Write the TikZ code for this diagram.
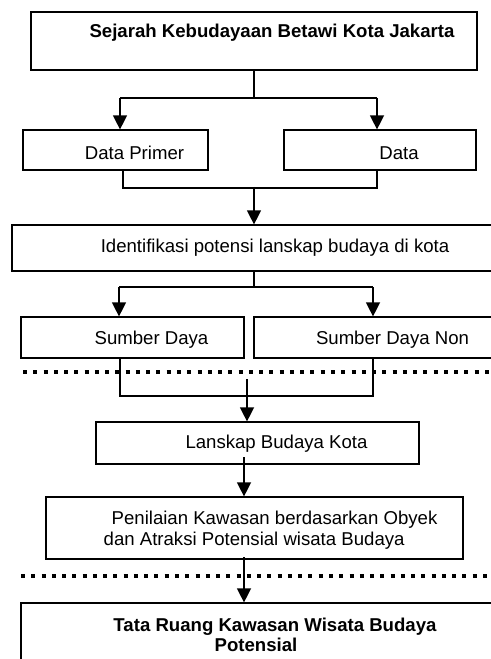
\documentclass[tikz,border=0pt]{standalone}
\usepackage{fontspec}
\setmainfont{Liberation Sans}
\usetikzlibrary{arrows.meta}

\begin{document}
\begin{tikzpicture}[x=0.75pt, y=-0.75pt, >={Triangle[width=10.5pt,length=10.5pt]}, line width=1pt,
    box/.style={draw, line width=0.9pt, inner sep=0pt},
    lbl/.style={font=\fontsize{13.95}{15.75}\selectfont, inner sep=0pt},
    dotline/.style={line width=3pt, dash pattern=on 3pt off 4.7pt}]
    \useasboundingbox (0,0) rectangle (490,659);

    % Boxes {sejarah, primer, sekunder, identifikasi, etc}
    \node [box, minimum width=334.5pt, minimum height=43.5pt]   (sejarah)      at (254,41)      {};
    \node [box, minimum width=138.75pt, minimum height=30pt]    (primer)       at (115.5,150)   {};
    \node [box, minimum width=144pt, minimum height=30pt]       (sekunder)     at (380,150)     {};
    \node [box, minimum width=366pt, minimum height=34.5pt]     (identifikasi) at (256,248)     {};
    \node [box, minimum width=167.25pt, minimum height=30.75pt] (sdaya)        at (132.5,337.5) {};
    \node [box, minimum width=184.5pt, minimum height=30.75pt]  (sdnon)        at (377,337.5)   {};
    \node [box, minimum width=242.25pt, minimum height=31.5pt]  (lanskap)      at (257.5,443)   {};
    \node [box, minimum width=312.75pt, minimum height=46.5pt]  (penilaian)    at (254.5,528)   {};
    \node [box, minimum width=381.75pt, minimum height=72.75pt] (tataruang)    at (275.5,651.5) {};

    % Labels
    \node [lbl, font=\fontsize{13.95}{15.75}\selectfont\bfseries] (sejarah-t) at (272,33) {Sejarah Kebudayaan Betawi Kota Jakarta};
    \node [lbl] (primer-t)       at (134.5,153) {Data Primer};
    \node [lbl] (sekunder-t)     at (399,153)   {Data};
    \node [lbl] (identifikasi-t) at (275,248)   {Identifikasi potensi lanskap budaya di kota};
    \node [lbl] (sdaya-t)        at (151.5,340) {Sumber Daya};
    \node [lbl] (sdnon-t)        at (392.5,340) {Sumber Daya Non};
    \node [lbl] (lanskap-t)      at (276.5,444) {Lanskap Budaya Kota};
    \node [lbl, anchor=west, align=left] (penilaian-t) at (103,530.5)
        {\hspace*{6pt}Penilaian Kawasan berdasarkan Obyek\\dan Atraksi Potensial wisata Budaya};
    \node [lbl, font=\fontsize{13.95}{15}\selectfont\bfseries, align=center] (tataruang-t) at (275,635)
        {Tata Ruang Kawasan Wisata Budaya\\\hspace*{-28.5pt}Potensial};

    % Dotted separators
    \coordinate (sep1a) at (23,372);  \coordinate (sep1b) at (500,372);
    \coordinate (sep2a) at (21,576);  \coordinate (sep2b) at (500,576);
    \draw [dotline] (sep1a) -- (sep1b);
    \draw [dotline] (sep2a) -- (sep2b);

    % Split points
    \coordinate (s1)  at (254,98);
    \coordinate (s1l) at (120,98);   \coordinate (s1r) at (377,98);
    \coordinate (m1l) at (123,188);  \coordinate (m1r) at (377,188);
    \coordinate (m1)  at (254,187);
    \coordinate (s2)  at (254,287);
    \coordinate (s2l) at (119,287);  \coordinate (s2r) at (373,287);
    \coordinate (m2l) at (120,396);  \coordinate (m2r) at (373,396);
    \coordinate (m2)  at (247,379);
    \coordinate (a3)  at (244,457);
    \coordinate (a4)  at (244,557);

    % Paths
    \draw       (sejarah.south) -- (s1);
    \draw       (s1l) -- (s1r);
    \path [->]  (s1l) edge (s1l |- primer.north);
    \path [->]  (s1r) edge (s1r |- sekunder.north);

    \draw       (m1l |- primer.south) -- (m1l) -- (m1r) -- (m1r |- sekunder.south);
    \path [->]  (m1) edge (m1 |- identifikasi.north);

    \draw       (identifikasi.south -| s2) -- (s2);
    \draw       (s2l) -- (s2r);
    \path [->]  (s2l) edge (s2l |- sdaya.north);
    \path [->]  (s2r) edge (s2r |- sdnon.north);

    \draw       (m2l |- sdaya.south) -- (m2l) -- (m2r) -- (m2r |- sdnon.south);
    \path [->]  (m2) edge (m2 |- lanskap.north);

    \path [->]  (a3) edge (a3 |- penilaian.north);
    \path [->]  (a4) edge (a4 |- tataruang.north);

\end{tikzpicture}
\end{document}
